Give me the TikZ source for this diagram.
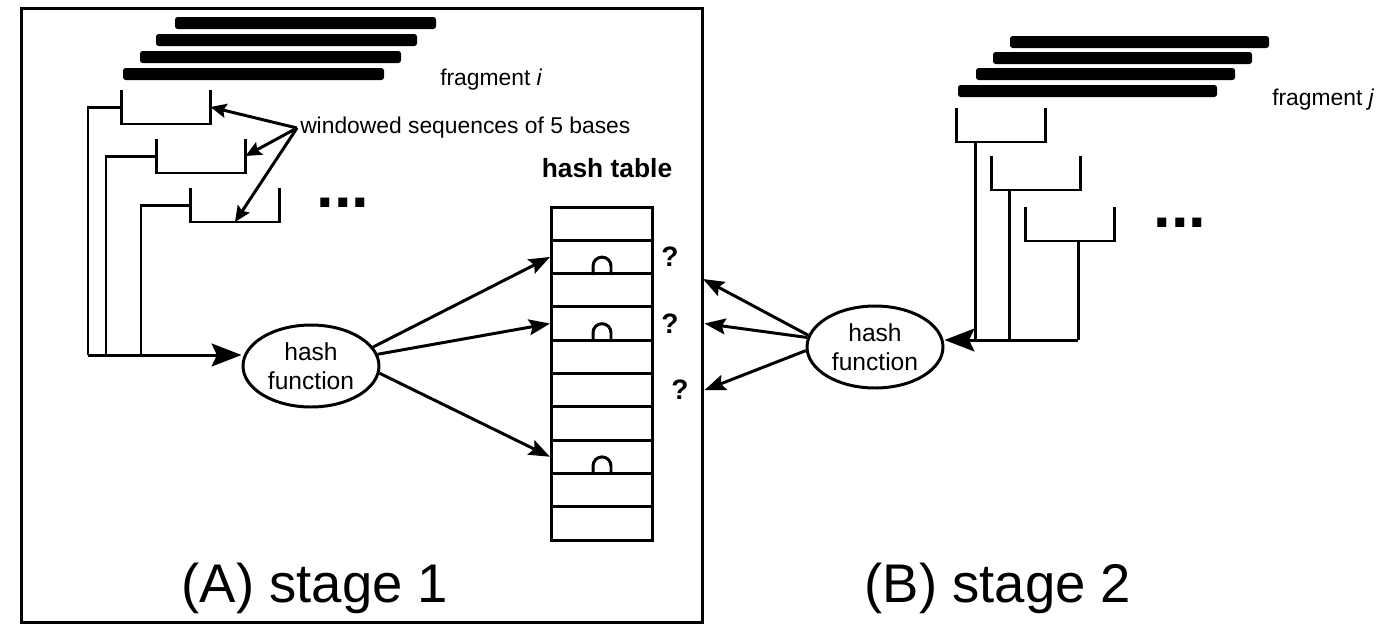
\documentclass[tikz,border=0pt]{standalone}
\usepackage{fontspec}
\setmainfont{Liberation Sans}
\usetikzlibrary{arrows.meta,positioning,shapes.geometric,calc}
\tikzset{
  cell/.style={draw, minimum width=2.02cm, minimum height=0.666cm, inner sep=0pt},
  hashfn/.style={draw, ellipse, minimum width=2.72cm, minimum height=1.64cm, inner sep=0pt, align=center, font=\fontsize{14}{16.5}\selectfont},
  window/.style={minimum width=1.72cm, minimum height=0.62cm, inner sep=0pt},
  lbl/.style={font=\fontsize{13}{15}\selectfont, inner sep=1pt},
  qmark/.style={font=\fontsize{16}{18}\selectfont\bfseries, inner sep=0pt},
  dots/.style={font=\fontsize{36}{36}\selectfont\bfseries, inner sep=0pt},
  stage/.style={font=\fontsize{31}{36}\selectfont, inner sep=0pt},
  feed/.style={-{Stealth[length=17pt, width=13pt, inset=3pt]}},
  hit/.style={-{Stealth[length=12pt, width=9pt, inset=2pt]}},
  point/.style={-{Stealth[length=9pt, width=8pt, inset=1.5pt]}},
}

\begin{document}
\begin{tikzpicture}[x=0.02cm, y=-0.02cm, line width=1.7pt]
  \useasboundingbox (0,0) rectangle (1396,633);
  % stage 1 frame
  \node[draw, minimum width=13.64cm, minimum height=12.3cm, inner sep=0pt] (stageA) at (362,315.5) {};

  % fragment i and its windows
  \foreach \x/\y in {175/17, 156/34, 140/51, 123/68}
    \fill[rounded corners=1.5pt] (\x,\y) rectangle ++(261,12);
  \node[lbl, anchor=west] (fragi) at (437,80) {fragment \textit{i}};
  \node[window] (wa1) at (166,107) {};
  \node[window] (wa2) at (201,156) {};
  \node[window] (wa3) at (235,205) {};
  \foreach \w in {wa1,wa2,wa3}
    \draw (\w.north west) |- (\w.south east) -- (\w.north east);
  \node[dots] (dotsa) at (343,203) {...};
  \node[lbl, anchor=west] (win) at (297,128) {windowed sequences of 5 bases};
  \draw[point] (win.west) -- (wa1.east);
  \draw[point] (win.west) -- (wa2.east);
  \draw[point] (win.west) -- (wa3.south);

  % windows into the first hash function
  \node[hashfn] (hash1) at (311,366) {hash\\function};
  \coordinate (ja1) at (88,355);
  \coordinate (ja2) at (106,355);
  \coordinate (ja3) at (141,355);
  \draw (wa1.west) -| (ja1);
  \draw (wa2.west) -| (ja2);
  \draw (wa3.west) -| (ja3);
  \draw[feed] (ja1) -- (ja1 -| hash1.west);

  % hash table
  \foreach \i in {1,...,10}
    \node[cell] (row\i) at (602,{207+33.3*(\i-0.5)}) {};
  \node[font=\fontsize{15}{18}\selectfont\bfseries, above=0.4cm of row1, xshift=0.1cm] (htab) {hash table};
  \foreach \r in {row2,row4,row8}
    \draw (\r.south) ++(-9,0) -- ++(0,-9) arc[start angle=180, end angle=0, radius=0.18cm] -- ++(0,9);
  \draw[hit] (hash1.17) -- (row2.west);
  \draw[hit] (hash1.10) -- (row4.west);
  \draw[hit] (hash1.-6) -- (row8.west);
  \node[qmark, right=0.12cm of row2] (q1) {?};
  \node[qmark, right=0.12cm of row4] (q2) {?};
  \node[qmark, right=0.32cm of row6] (q3) {?};

  % fragment j and its windows
  \foreach \x/\y in {1010/36, 993/52, 976/68, 958/85}
    \fill[rounded corners=1.5pt] (\x,\y) rectangle ++(259,12);
  \node[lbl, anchor=west] (fragj) at (1269,100) {fragment \textit{j}};
  \node[window] (wb1) at (1001,125) {};
  \node[window] (wb2) at (1036,173) {};
  \node[window] (wb3) at (1070,224) {};
  \foreach \w in {wb1,wb2,wb3}
    \draw (\w.north west) |- (\w.south east) -- (\w.north east);
  \node[dots] (dotsb) at (1180,223) {...};

  % lookups of stage 2
  \node[hashfn] (hash2) at (875,347) {hash\\function};
  \coordinate (jb1) at (975,340);
  \coordinate (jb2) at (1009,340);
  \coordinate (jb3) at (1078,340);
  \draw (jb1 |- wb1.south) -- (jb1);
  \draw (jb2 |- wb2.south) -- (jb2);
  \draw (jb3 |- wb3.south) -- (jb3);
  \draw[feed] (jb3) -- (jb3 -| hash2.east);
  \coordinate (ask1) at (703,279);
  \draw[hit] (hash2.170) -- (ask1);
  \draw[hit] (hash2.172) -- (stageA.east |- q2);
  \draw[hit] (hash2.183) -- (stageA.east |- q3);

  \node[stage, anchor=base] (capA) at (315,602) {(A) stage 1};
  \node[stage, anchor=base] (capB) at (998,602) {(B) stage 2};
\end{tikzpicture}
\end{document}
